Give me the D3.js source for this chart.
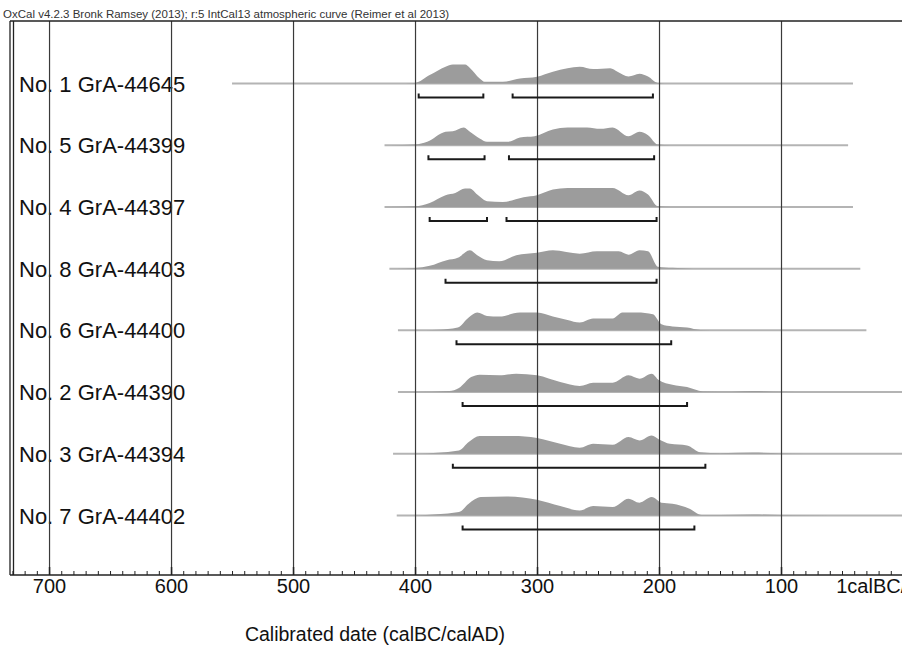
<!DOCTYPE html>
<html>
<head>
<meta charset="utf-8">
<script src="https://cdn.jsdelivr.net/npm/d3@7"></script>
<style>
  body { margin: 0; background: #fff; }
  svg { display: block; font-family: "Liberation Sans", Arial, sans-serif; }
</style>
</head>
<body>
<div id="chart"></div>
<script>
/* Sample labels, top to bottom */
var sampleLabels = ["No. 1 GrA-44645", "No. 5 GrA-44399", "No. 4 GrA-44397", "No. 8 GrA-44403",
                    "No. 6 GrA-44400", "No. 2 GrA-44390", "No. 3 GrA-44394", "No. 7 GrA-44402"];

/* Extent of the thin line behind each distribution [from, to] in calBC */
var lineExtent = [[550, 41], [425, 45], [425, 41], [421, 35], [414, 30], [414, -10], [418, -10], [415, -10]];

/* Probability distributions: [calBC, relative height 0-100] */
var distNo1 = [[415,0],[400,3],[388,42],[375,84],[369,95],[359,95],[355,78],[347,25],[343,9],[328,9],[314,25],[300,34],[287,59],[275,76],[265,84],[254,72],[240,76],[234,59],[225,35],[216,49],[209,35],[201,3],[190,0]];
var distNo5 = [[420,0],[400,3],[390,17],[375,67],[369,70],[360,89],[355,67],[347,34],[341,17],[324,17],[314,39],[302,45],[287,79],[275,89],[259,89],[248,82],[238,89],[225,45],[216,67],[209,50],[201,3],[190,0]];
var distNo4 = [[420,0],[400,3],[388,20],[375,59],[367,70],[359,92],[355,92],[349,62],[341,29],[328,25],[311,49],[300,59],[287,87],[275,95],[254,95],[238,95],[225,59],[216,82],[209,62],[201,3],[190,0]];
var distNo8 = [[415,0],[400,3],[388,14],[374,42],[365,54],[355,92],[349,67],[341,42],[331,37],[317,67],[300,80],[287,92],[265,75],[251,87],[233,87],[225,70],[216,92],[209,87],[201,10],[189,4],[172,0]];
var distNo6 = [[400,0],[381,3],[365,14],[356,64],[349,89],[341,72],[331,69],[314,89],[300,89],[287,69],[275,52],[265,39],[254,59],[238,59],[230,89],[218,89],[205,80],[198,30],[189,19],[177,14],[166,2],[150,1],[100,1],[60,0]];
var distNo2 = [[400,0],[372,5],[364,20],[354,75],[347,87],[331,84],[317,92],[300,84],[281,50],[265,30],[254,47],[238,47],[225,84],[216,67],[206,92],[200,59],[189,37],[177,25],[164,3],[140,2],[123,5],[105,2],[70,0]];
var distNo3 = [[400,0],[364,17],[356,59],[347,89],[320,89],[300,79],[281,50],[265,30],[254,50],[238,45],[225,84],[216,67],[206,92],[200,72],[191,50],[177,42],[166,8],[150,3],[123,6],[100,2],[60,0]];
var distNo7 = [[400,0],[364,17],[356,59],[346,92],[325,95],[300,79],[281,47],[265,25],[254,47],[238,42],[225,84],[216,64],[206,92],[198,64],[189,59],[175,34],[165,3],[150,2],[123,5],[100,2],[60,0]];
var distributions = [distNo1, distNo5, distNo4, distNo8, distNo6, distNo2, distNo3, distNo7];

/* 95.4% ranges [from, to] in calBC */
var ranges = [
  [[397, 344], [320, 205]],
  [[389, 343], [323, 204]],
  [[388, 341], [325, 202]],
  [[375, 202]],
  [[366, 190]],
  [[361, 177]],
  [[369, 162]],
  [[361, 171]]
];

/* Axis ticks */
var majorTicks = [700, 600, 500, 400, 300, 200, 100, 0];
var minorTicks = d3.range(0, 740, 10);

var width = 902, height = 646;
var frameTop = 21, axisY = 575;

var svg = d3.select("#chart").append("svg")
    .attr("width", width)
    .attr("height", height);

/* scales */
var x = d3.scaleLinear().domain([732, 0]).range([10, 903]);
var y = d3.scalePoint().domain(sampleLabels).range([83.5, 515.5]);
var h = d3.scaleLinear().domain([0, 100]).range([0, 20]);

/* header */
svg.append("text")
    .attr("x", 3)
    .attr("y", 18)
    .style("font-size", "11.5px")
    .style("fill", "#333")
    .text("OxCal v4.2.3 Bronk Ramsey (2013); r:5 IntCal13 atmospheric curve (Reimer et al 2013)");

/* sample labels */
svg.selectAll(".row-label")
    .data(sampleLabels)
  .enter()
    .append("text")
    .attr("class", "row-label")
    .attr("x", 19)
    .attr("y", function(r){ return y(r) + 8; })
    .style("font-size", "22px")
    .style("fill", "#111")
    .text(function(r){ return r; });

/* row lines */
svg.selectAll(".row-line")
    .data(sampleLabels)
  .enter()
    .append("line")
    .attr("class", "row-line")
    .attr("x1", function(r, i){ return x(lineExtent[i][0]); })
    .attr("x2", function(r, i){ return x(lineExtent[i][1]); })
    .attr("y1", function(r){ return y(r); })
    .attr("y2", function(r){ return y(r); })
    .style("stroke", "#b4b4b4")
    .style("stroke-width", 2);

/* distributions */
svg.selectAll(".dist")
    .data(sampleLabels)
  .enter()
    .append("path")
    .attr("class", "dist")
    .attr("d", function(r, i){
        var base = y(r);
        return d3.area()
            .curve(d3.curveMonotoneX)
            .x(function(d){ return x(d[0]); })
            .y0(base)
            .y1(function(d){ return base - h(d[1]); })(distributions[i]);
    })
    .style("fill", "#9c9c9c");

/* grid lines */
svg.append("g")
    .attr("class", "grid")
    .attr("transform", "translate(0," + axisY + ")")
    .call(d3.axisBottom(x).tickValues(majorTicks).tickSize(-(axisY - frameTop)).tickFormat(""))
    .call(function(g){ g.select(".domain").remove(); })
    .selectAll("line")
    .style("stroke", "#3a3a3a")
    .style("stroke-width", 1.2);

/* range brackets */
ranges.forEach(function(rs, i){
    var by = y(sampleLabels[i]) + 14;
    rs.forEach(function(r){
        svg.append("path")
            .attr("d", "M" + x(r[0]) + "," + (by - 4) + "V" + by + "H" + x(r[1]) + "V" + (by - 4))
            .style("fill", "none")
            .style("stroke", "#1a1a1a")
            .style("stroke-width", 2);
    });
});

/* frame */
svg.append("line").attr("x1", 10).attr("x2", 902).attr("y1", frameTop).attr("y2", frameTop)
    .style("stroke", "#222").style("stroke-width", 1.5);
[10, 13.5].forEach(function(lx){
    svg.append("line").attr("x1", lx).attr("x2", lx).attr("y1", frameTop).attr("y2", axisY)
        .style("stroke", "#222").style("stroke-width", 1.3);
});

/* minor ticks */
svg.append("g")
    .attr("transform", "translate(0," + axisY + ")")
    .call(d3.axisBottom(x).tickValues(minorTicks).tickSize(-4).tickFormat(""))
    .call(function(g){ g.select(".domain").remove(); })
    .selectAll("line").style("stroke", "#222");

/* x axis */
svg.append("g")
    .attr("class", "x axis")
    .attr("transform", "translate(0," + axisY + ")")
    .call(d3.axisBottom(x).tickValues(majorTicks).tickSize(-8).tickPadding(4)
        .tickFormat(function(d){ return d === 0 ? "1calBC/1calAD" : d; }))
    .call(function(g){
        g.select(".domain").attr("d", "M10,0H902").style("stroke", "#222").style("stroke-width", 1.5);
        g.selectAll("line").style("stroke", "#222").style("stroke-width", 1.5);
        g.selectAll("text").style("font-size", "20px").style("fill", "#111")
            .style("font-family", "'Liberation Sans', Arial, sans-serif");
    });

/* axis title */
svg.append("text")
    .attr("x", 375)
    .attr("y", 641)
    .style("font-size", "19.5px")
    .style("fill", "#111")
    .style("text-anchor", "middle")
    .text("Calibrated date (calBC/calAD)");
</script>
</body>
</html>
